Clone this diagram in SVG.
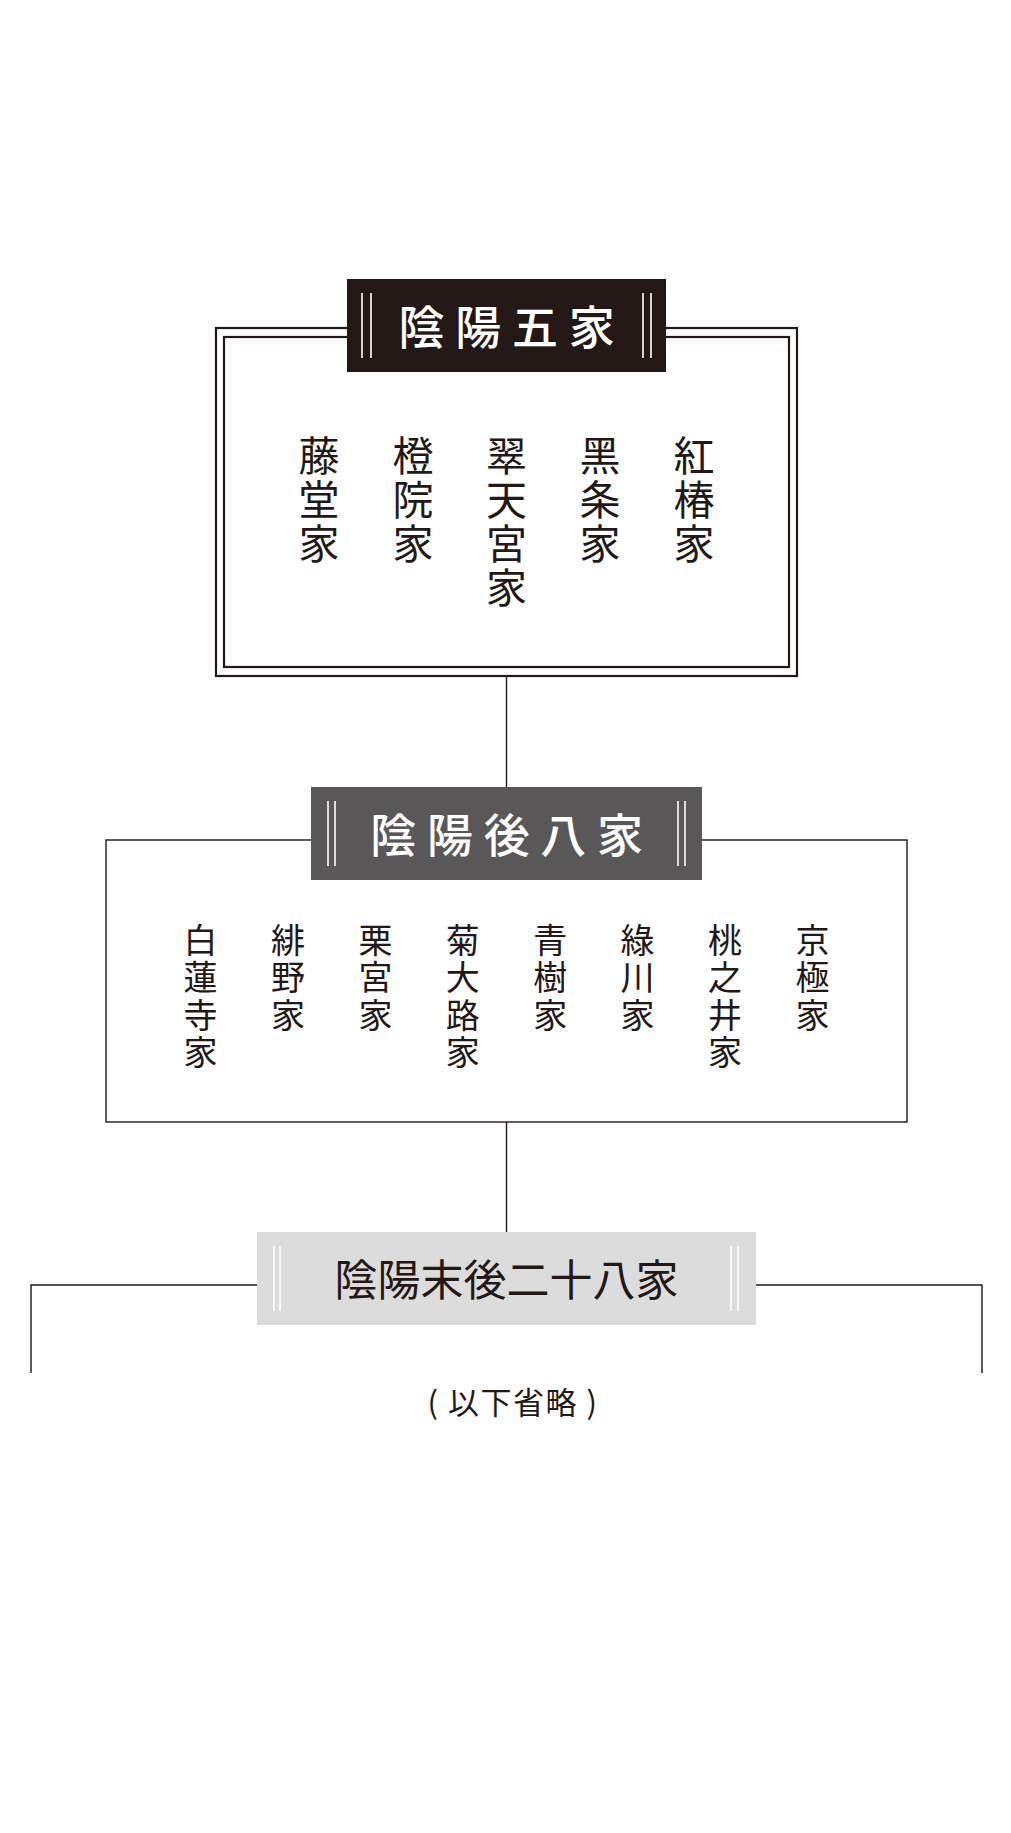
<svg xmlns="http://www.w3.org/2000/svg" width="1011" height="1833" viewBox="0 0 1011 1833">
<style>
.bg{fill:#ffffff}
.ln{fill:none;stroke:#231815;stroke-width:1.4}
.fr{fill:none;stroke:#231815;stroke-width:2.2}
.dl{stroke:#ffffff;stroke-width:1.6}
.t1{font-family:"Noto Sans CJK JP","Noto Sans CJK TC",sans-serif;font-size:46px;font-weight:500;fill:#ffffff;letter-spacing:10.7px;text-anchor:middle}
.t3{font-family:"Noto Sans CJK JP","Noto Sans CJK TC",sans-serif;font-size:43px;font-weight:400;fill:#231815;text-anchor:middle}
.c1{font-family:"Noto Sans CJK JP","Noto Sans CJK TC",sans-serif;font-size:41px;font-weight:400;fill:#231815;writing-mode:vertical-rl;text-orientation:upright;letter-spacing:3px}
.c2{font-family:"Noto Sans CJK JP","Noto Sans CJK TC",sans-serif;font-size:34px;font-weight:400;fill:#231815;writing-mode:vertical-rl;text-orientation:upright;letter-spacing:3.5px}
.nt{font-family:"Noto Sans CJK JP","Noto Sans CJK TC",sans-serif;font-size:31px;font-weight:400;fill:#231815;text-anchor:middle;letter-spacing:1.5px}
</style>
<rect class="bg" x="0" y="0" width="1011" height="1833"/>

<g id="connectors">
<line class="ln" x1="506.5" y1="676" x2="506.5" y2="787"/>
<line class="ln" x1="506.5" y1="1122" x2="506.5" y2="1232"/>
<path class="ln" d="M31 1373 V1285 H982 V1373"/>
</g>

<g id="group-five">
<rect class="fr" x="216" y="328" width="581" height="348"/>
<rect class="fr" x="224" y="337" width="565" height="330"/>
<g id="title-five">
<rect x="347" y="279" width="319" height="93" fill="#231815"/>
<line class="dl" x1="362" y1="293" x2="362" y2="358"/>
<line class="dl" x1="371" y1="293" x2="371" y2="358"/>
<line class="dl" x1="643" y1="293" x2="643" y2="358"/>
<line class="dl" x1="651" y1="293" x2="651" y2="358"/>
<text class="t1" x="512" y="344">陰陽五家</text>
</g>
<g id="five-members">
<text class="c1" x="319" y="435">藤堂家</text>
<text class="c1" x="413" y="435">橙院家</text>
<text class="c1" x="506.5" y="435">翠天宮家</text>
<text class="c1" x="600" y="435">黑条家</text>
<text class="c1" x="694" y="435">紅椿家</text>
</g>
</g>

<g id="group-eight">
<rect class="ln" x="106" y="840" width="801" height="282"/>
<g id="title-eight">
<rect x="311" y="787" width="391" height="93" fill="#595757"/>
<line class="dl" x1="328" y1="801" x2="328" y2="866"/>
<line class="dl" x1="335" y1="801" x2="335" y2="866"/>
<line class="dl" x1="678" y1="801" x2="678" y2="866"/>
<line class="dl" x1="685" y1="801" x2="685" y2="866"/>
<text class="t1" x="512" y="851.5">陰陽後八家</text>
</g>
<g id="eight-members">
<text class="c2" x="200.6" y="923">白蓮寺家</text>
<text class="c2" x="288" y="923">緋野家</text>
<text class="c2" x="375.4" y="923">栗宮家</text>
<text class="c2" x="462.8" y="923">菊大路家</text>
<text class="c2" x="550.2" y="923">青樹家</text>
<text class="c2" x="637.6" y="923">綠川家</text>
<text class="c2" x="725" y="923">桃之井家</text>
<text class="c2" x="812.4" y="923">京極家</text>
</g>
</g>

<g id="title-twentyeight">
<rect x="257" y="1232" width="499" height="93" fill="#dcdcdc"/>
<line class="dl" x1="274" y1="1246" x2="274" y2="1311"/>
<line class="dl" x1="280" y1="1246" x2="280" y2="1311"/>
<line class="dl" x1="731" y1="1246" x2="731" y2="1311"/>
<line class="dl" x1="738" y1="1246" x2="738" y2="1311"/>
<text class="t3" x="506.5" y="1296">陰陽末後二十八家</text>
</g>

<g id="note">
<text class="nt" x="513" y="1414" xml:space="preserve">( 以下省略 )</text>
</g>
</svg>
